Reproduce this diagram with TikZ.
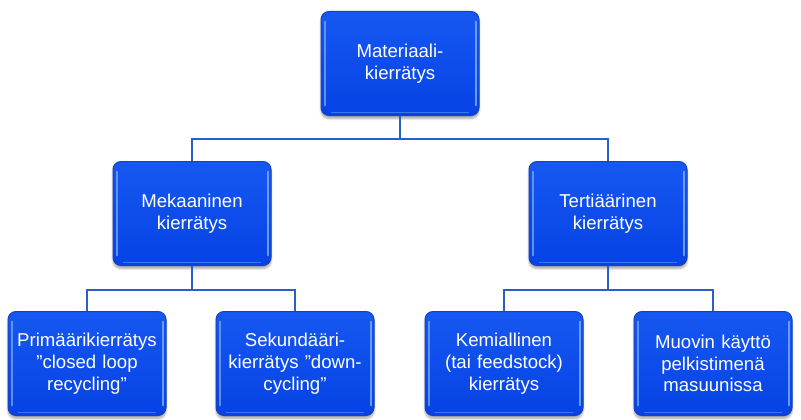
\documentclass[tikz,border=0pt]{standalone}
\usepackage{fontspec}
\setmainfont{Liberation Sans}
\usetikzlibrary{shadows.blur}
\definecolor{boxtop}{RGB}{22,88,242}
\definecolor{boxbot}{RGB}{6,66,228}
\definecolor{boxedge}{RGB}{25,65,190}
\definecolor{hilite}{RGB}{120,170,255}
\definecolor{linkblue}{RGB}{40,95,200}
\begin{document}
\begin{tikzpicture}[x=1pt,y=1pt,
  boxnode/.style={draw=boxedge, line width=1pt, top color=boxtop, bottom color=boxbot, rounded corners=8pt,
    minimum width=158pt, minimum height=104pt, text width=150pt, align=center,
    text=white, font=\fontsize{18.6}{21.7}\selectfont, inner sep=0pt,
    blur shadow={shadow xshift=0pt, shadow yshift=-3pt, shadow blur steps=6, shadow opacity=35},
    path picture={
      \draw[hilite, line width=1.6pt, opacity=0.75, line cap=round]
        ([xshift=4pt,yshift=-10pt]path picture bounding box.north west) --
        ([xshift=4pt,yshift=10pt]path picture bounding box.south west);
      \draw[hilite, line width=1.8pt, opacity=0.85, line cap=round]
        ([xshift=-3pt,yshift=-10pt]path picture bounding box.north east) --
        ([xshift=-3pt,yshift=10pt]path picture bounding box.south east);
      \draw[hilite, line width=1pt, opacity=0.5]
        ([xshift=10pt,yshift=3pt]path picture bounding box.south west) --
        ([xshift=-10pt,yshift=3pt]path picture bounding box.south east);
    }},
  link/.style={draw=linkblue, line width=1.6pt}]
\useasboundingbox (0,0) rectangle (801,-420);
\node[boxnode] (top) at (400,-63.5) {Materiaali-\\kierrätys};
\node[boxnode] (midL) at (192,-213.5) {Mekaaninen\\kierrätys};
\node[boxnode] (midR) at (608,-213.5) {Tertiäärinen\\kierrätys};
\node[boxnode] (b1) at (87,-363.5) {Primäärikierrätys\\”closed loop\\recycling”};
\node[boxnode] (b2) at (295,-363.5) {Sekundääri-\\kierrätys ”down-\\cycling”};
\node[boxnode] (b3) at (504,-363.5) {Kemiallinen\\(tai feedstock)\\kierrätys};
\node[boxnode] (b4) at (713,-363.5) {Muovin käyttö\\pelkistimenä\\masuunissa};
\draw[link] (top.south) -- ++(0,-23) -| (midL.north);
\draw[link] (top.south) -- ++(0,-23) -| (midR.north);
\draw[link] (midL.south) -- ++(0,-24) -| (b1.north);
\draw[link] (midL.south) -- ++(0,-24) -| (b2.north);
\draw[link] (midR.south) -- ++(0,-24) -| (b3.north);
\draw[link] (midR.south) -- ++(0,-24) -| (b4.north);
\end{tikzpicture}
\end{document}
